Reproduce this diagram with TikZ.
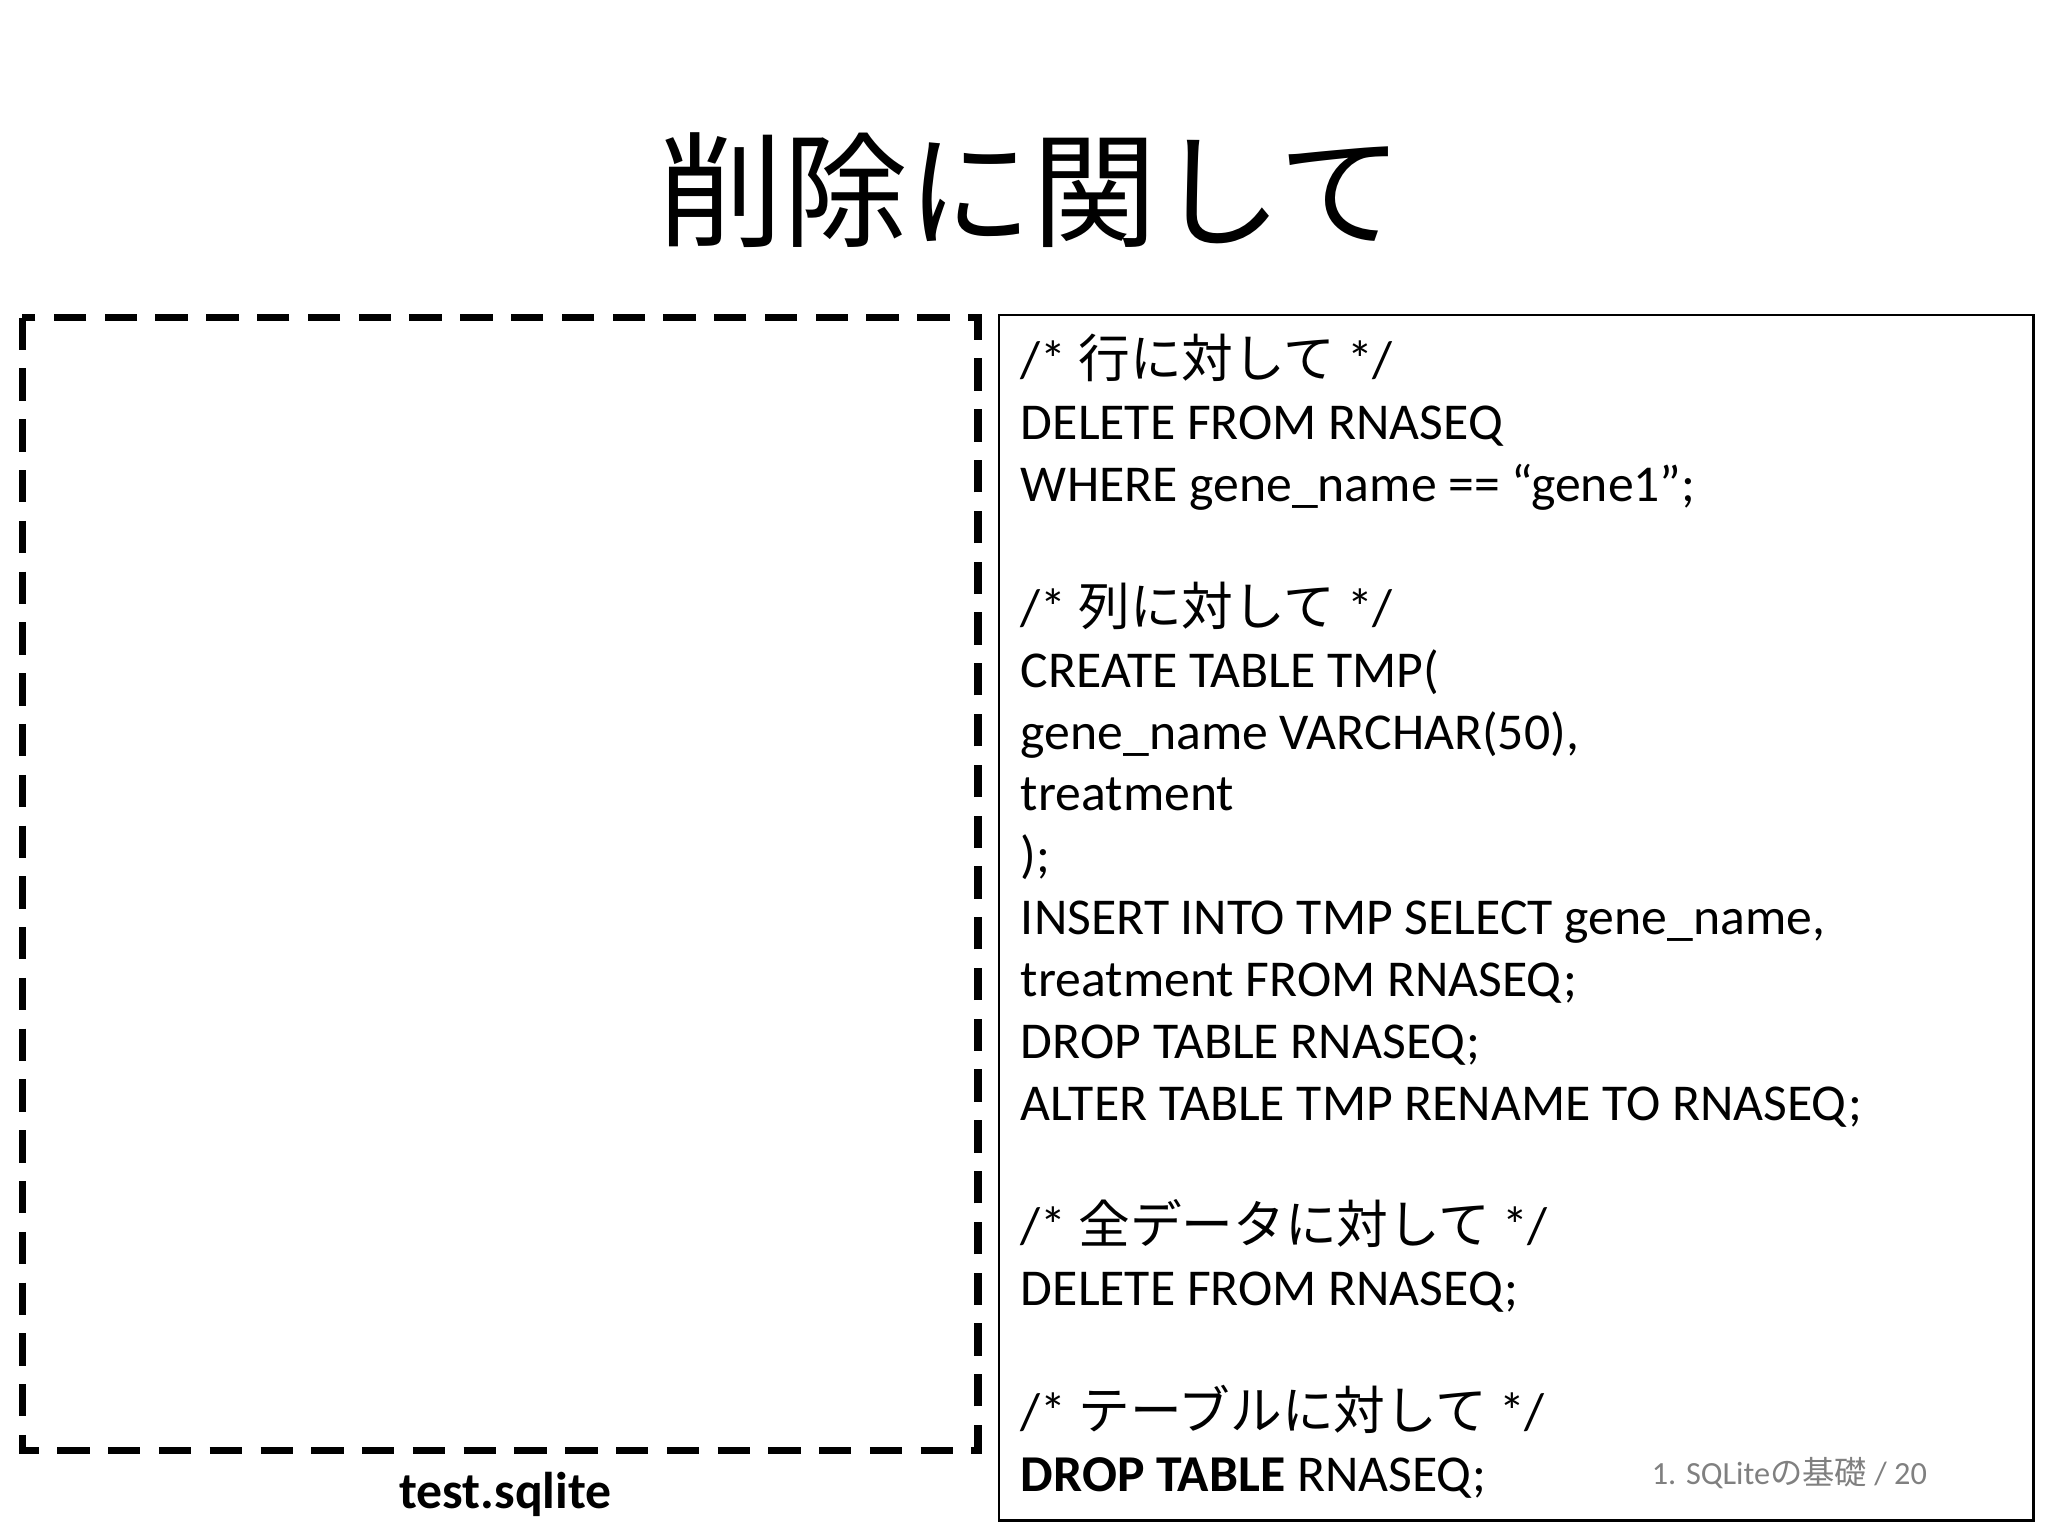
\documentclass[tikz,border=0pt]{standalone}
\usepackage{fontspec}
\setmainfont{Carlito}
\newfontfamily\jp{Noto Sans CJK JP}
\begin{document}
\begin{tikzpicture}[x=0.01cm,y=-0.01cm,
  code/.style={anchor=north west,align=left,inner sep=0pt,font=\fontsize{11.2}{13.4}\selectfont}]
\useasboundingbox (0,0) rectangle (1560,1170);
\node[font=\jp\fontsize{27}{30}\selectfont] (title) at (785,145) {削除に関して};
\draw[line width=1.6pt,dash pattern=on 7pt off 4pt] (17,242) rectangle (745,1105);
\node[font=\bfseries\fontsize{11.2}{13}\selectfont] (lbl) at (385,1138) {test.sqlite};
\draw[line width=0.6pt] (761,240) rectangle (1549,1158);
\node[code] (code) at (777,254) {%
/* {\jp 行に対して} */\\
DELETE FROM RNASEQ\\
WHERE gene\_name == “gene1”;\\
\mbox{}\\
/* {\jp 列に対して} */\\
CREATE TABLE TMP(\\
gene\_name VARCHAR(50),\\
treatment\\
);\\
INSERT INTO TMP SELECT gene\_name,\\
treatment FROM RNASEQ;\\
DROP TABLE RNASEQ;\\
ALTER TABLE TMP RENAME TO RNASEQ;\\
\mbox{}\\
/* {\jp 全データに対して} */\\
DELETE FROM RNASEQ;\\
\mbox{}\\
/* {\jp テーブルに対して} */\\
\textbf{DROP TABLE} RNASEQ;};
\node[text=gray,font=\fontsize{7}{8}\selectfont] (foot) at (1363,1122) {1. SQLite{\jp の基礎} / 20};
\end{tikzpicture}
\end{document}
